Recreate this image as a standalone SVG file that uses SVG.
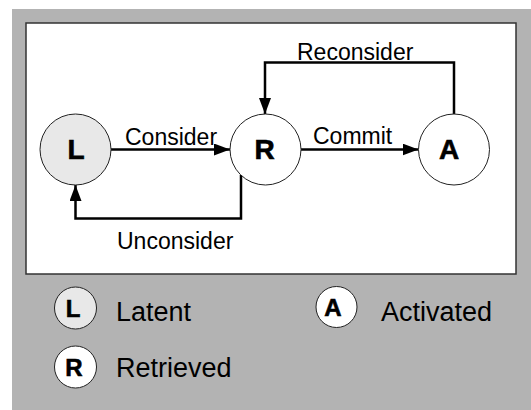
<svg xmlns="http://www.w3.org/2000/svg" width="531" height="410" viewBox="0 0 531 410">
  <style>
    .node { stroke: #222; stroke-width: 1; }
    .latent { fill: #e8e8e8; }
    .plain { fill: #ffffff; }
    .glyph { font-family: "Liberation Sans", Arial, sans-serif; font-weight: bold; fill: #000; stroke: #000; stroke-width: 0.6; text-anchor: middle; }
    .big { font-size: 28px; }
    .small { font-size: 24px; }
    .label { font-family: "Liberation Sans", Arial, sans-serif; font-size: 23px; fill: #000; }
    .legend { font-family: "Liberation Sans", Arial, sans-serif; font-size: 27px; fill: #000; }
    .edge { fill: none; stroke: #000; stroke-width: 2.5; }
  </style>
  <defs>
    <marker id="arrow" markerUnits="userSpaceOnUse" markerWidth="16" markerHeight="12" refX="16" refY="6" orient="auto">
      <path d="M0,0 L16,6 L0,12 z" fill="#000"/>
    </marker>
  </defs>

  <!-- backdrop and panel -->
  <rect x="12" y="9" width="519" height="401" fill="#b3b3b3"/>
  <rect x="26" y="23" width="490" height="251" fill="#ffffff" stroke="#333" stroke-width="1.5"/>

  <!-- connectors -->
  <g id="connectors">
    <line class="edge" x1="111" y1="149.5" x2="230" y2="149.5" marker-end="url(#arrow)"/>
    <line class="edge" x1="301" y1="149.5" x2="418.5" y2="149.5" marker-end="url(#arrow)"/>
    <path class="edge" d="M454,114 V62.5 H265 V114" marker-end="url(#arrow)"/>
    <path class="edge" d="M241,175 V218.5 H75.5 V185" marker-end="url(#arrow)"/>
    <text class="label" x="125" y="145">Consider</text>
    <text class="label" x="313" y="143.5">Commit</text>
    <text class="label" x="297" y="59.5">Reconsider</text>
    <text class="label" x="117" y="248.5">Unconsider</text>
  </g>

  <!-- state nodes -->
  <g id="node-L">
    <circle class="node latent" cx="75.5" cy="149.5" r="35.5"/>
    <text class="glyph big" x="76" y="158.5">L</text>
  </g>
  <g id="node-R">
    <circle class="node plain" cx="265.5" cy="149.5" r="35.5"/>
    <text class="glyph big" x="264.5" y="158.5">R</text>
  </g>
  <g id="node-A">
    <circle class="node plain" cx="454" cy="149.5" r="35.5"/>
    <text class="glyph big" x="449" y="158.5">A</text>
  </g>

  <!-- key -->
  <g id="legend-L">
    <circle class="node latent" cx="75.5" cy="308" r="21"/>
    <text class="glyph small" x="73" y="316.5">L</text>
    <text class="legend" x="116" y="321">Latent</text>
  </g>
  <g id="legend-A">
    <circle class="node plain" cx="336.5" cy="307" r="20.5"/>
    <text class="glyph small" x="333" y="315.5">A</text>
    <text class="legend" x="381" y="321">Activated</text>
  </g>
  <g id="legend-R">
    <circle class="node plain" cx="75.5" cy="367" r="21"/>
    <text class="glyph small" x="74" y="375.5">R</text>
    <text class="legend" x="116" y="377">Retrieved</text>
  </g>
</svg>
